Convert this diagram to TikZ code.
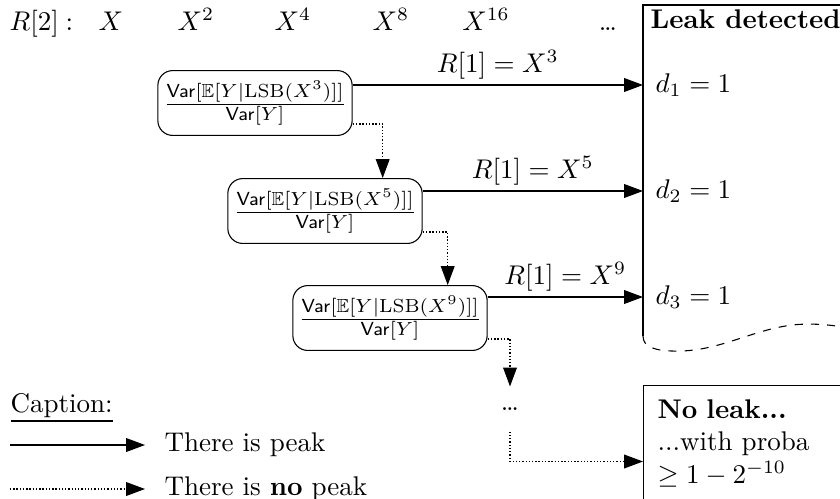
\documentclass[tikz,border=0pt]{standalone}
\usepackage{amssymb}
\usetikzlibrary{arrows.meta,calc}
\begin{document}
\begin{tikzpicture}[x=0.37pt,y=-0.37pt,
  fracbox/.style={draw, rounded corners=5.5pt, minimum width=68.8pt, minimum height=24pt, inner sep=2pt},
  peak/.style={-{Triangle[length=7pt,width=5.1pt]}},
  nopeak/.style={peak, dash pattern=on 0.5pt off 0.7pt},
  lbl/.style={anchor=base, inner sep=0pt},
  txt/.style={inner sep=0pt},
  edgelbl/.style={above, inner sep=2pt, midway}]
\useasboundingbox (0,0) rectangle (840,498);

% top row
\node[lbl, anchor=base west] (r2) at (9,30) {$R[2]$\hspace{2.5pt}$:$};
\node[lbl] (x1) at (111,30) {$X$};
\node[lbl] (x2) at (196,30) {$X^2$};
\node[lbl] (x4) at (293,30) {$X^4$};
\node[lbl] (x8) at (391,30) {$X^8$};
\node[lbl] (x16) at (486,30) {$X^{16}$};
\node[lbl] (xdots) at (608,30) {\dots};

% leak detected box
\node[minimum width=85pt, minimum height=122.1pt, inner sep=0pt, anchor=north west] (leak) at (643,5) {};
\draw (leak.south west) -- (leak.north west) -- (leak.north east);
\draw[dashed] (leak.south west) .. controls +(0,11) and +(-22,0) .. ++(34,15)
  .. controls +(48,0) and +(-48,0) .. ++(131,-27)
  .. controls +(22,0) and +(-15,-4) .. ++(52,7);
\node[txt, anchor=base west, font=\bfseries] (leakt) at (650,28) {Leak detected};
\node[txt, anchor=west] (d1) at (655,85) {$d_1 = 1$};
\node[txt, anchor=west] (d2) at (655,191) {$d_2 = 1$};
\node[txt, anchor=west] (d3) at (655,297) {$d_3 = 1$};

% fraction boxes
\node[fracbox] (b1) at (255,103) {$\frac{\mathsf{Var}[\mathbb{E}[Y|\mathrm{LSB}(X^3)]]}{\mathsf{Var}[Y]}$};
\node[fracbox] (b2) at (325,211) {$\frac{\mathsf{Var}[\mathbb{E}[Y|\mathrm{LSB}(X^5)]]}{\mathsf{Var}[Y]}$};
\node[fracbox] (b3) at (390,318) {$\frac{\mathsf{Var}[\mathbb{E}[Y|\mathrm{LSB}(X^9)]]}{\mathsf{Var}[Y]}$};

% peak arrows
\draw[peak] (b1.east |- d1) -- node[edgelbl] {$R[1] = X^3$} (leak.west |- d1);
\draw[peak] (b2.east |- d2) -- node[edgelbl] {$R[1] = X^5$} (leak.west |- d2);
\draw[peak] (b3.east |- d3) -- node[edgelbl] {$R[1] = X^9$} (leak.west |- d3);

% no peak arrows
\coordinate (v1) at ($(b1.east)+(30,0)$);
\coordinate (v2) at ($(b2.east)+(25,0)$);
\draw[nopeak] ($(b1.south east)+(0,-12)$) -| (v1 |- b2.north);
\draw[nopeak] ($(b2.south east)+(0,-12)$) -| (v2 |- b3.north);
\node[minimum height=16.3pt, inner sep=0pt] (dots) at (510,409) {\dots};
\draw[nopeak] ($(b3.south east)+(0,-12)$) -| (dots.north);

% no leak box
\node[draw, anchor=north west, inner sep=5.2pt, text width=80pt, align=left] (noleak) at (643,385)
  {\textbf{No leak...}\\...with proba\\$\geq 1-2^{-10}$};
\coordinate (nlin) at ($(noleak.south west)+(0,-40)$);
\draw[nopeak] (dots.south) |- (nlin);

% caption
\node[txt, anchor=base west] (cap) at (10,412) {\underline{Caption:}};
\node[txt, anchor=west] (lg1) at (164,445) {There is peak};
\node[txt, anchor=west] (lg2) at (164,489) {There is \textbf{no} peak};
\coordinate (lg1s) at (10,445);
\coordinate (lg2s) at (10,489);
\draw[peak] (lg1s) -- ($(lg1.west)+(-19,0)$);
\draw[nopeak] (lg2s) -- ($(lg2.west)+(-19,0)$);
\end{tikzpicture}
\end{document}
